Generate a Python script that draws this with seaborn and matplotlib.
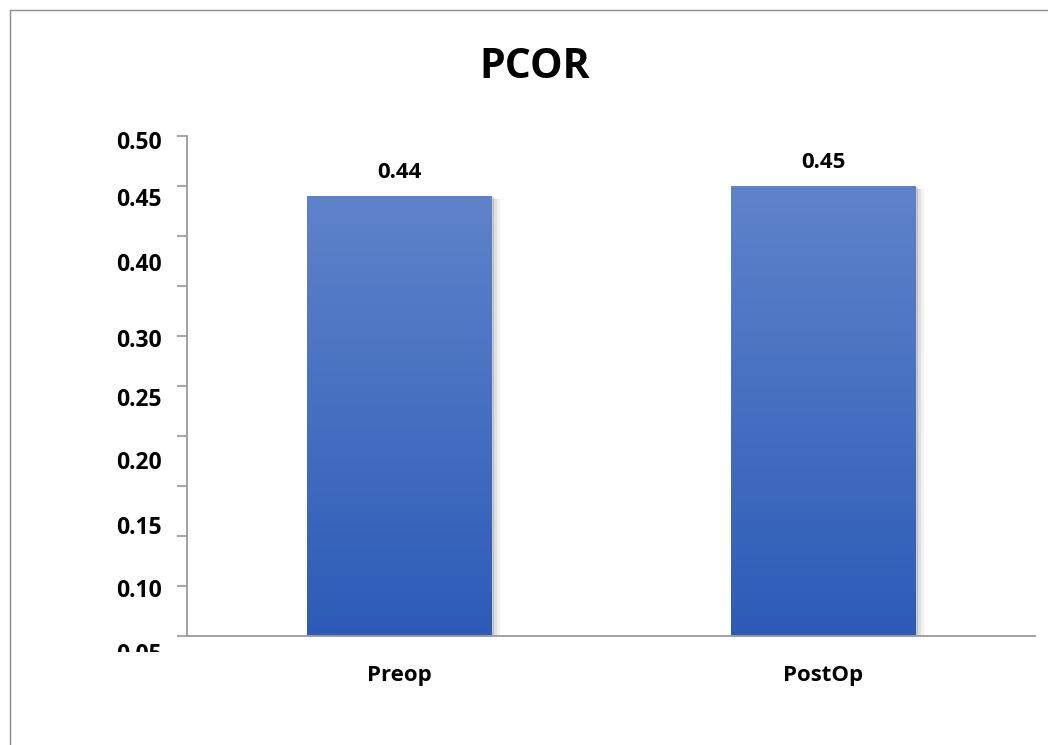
import numpy as np
import pandas as pd
import matplotlib
matplotlib.use("Agg")
import matplotlib.pyplot as plt
import matplotlib.patheffects as pe
from matplotlib.patches import Rectangle
import seaborn as sns

# Chart data
categories = ["Preop", "PostOp"]
values = [0.44, 0.45]
value_labels = ["0.44", "0.45"]
y_tick_labels = ["0.50", "0.45", "0.40", "0.30", "0.25", "0.20", "0.15", "0.10", "0.05"]
title = "PCOR"

# Layout: where each y label sits (data units) and the axis grid step
label_y = [0.493, 0.436, 0.371, 0.295, 0.236, 0.173, 0.108, 0.045, -0.019]
tick_step = 0.05
y_max = 0.5

sns.set_style("white")
plt.rcParams["font.family"] = ["Open Sans", "DejaVu Sans"]
plt.rcParams["font.weight"] = "bold"

W, H = 1048, 745
fig = plt.figure(figsize=(W / 100, H / 100), dpi=100)
ax = fig.add_axes([187 / W, 1 - 636 / H, (1035 - 187) / W, (636 - 136) / H])

df = pd.DataFrame({"group": categories, "value": values})
sns.barplot(data=df, x="group", y="value", ax=ax, color="#2d5db8",
            width=0.436, saturation=1, errorbar=None)

# Vertical blue gradient on each bar, with a soft drop shadow
grad = np.linspace(0, 1, 256).reshape(-1, 1)
cmap = matplotlib.colors.LinearSegmentedColormap.from_list(
    "barblue", ["#2c5bb7", "#5f83cb"])
for bar in ax.patches:
    bar.set_path_effects([
        pe.SimplePatchShadow(offset=(6, -2), shadow_rgbFace="#999999", alpha=0.12),
        pe.SimplePatchShadow(offset=(4, -2), shadow_rgbFace="#888888", alpha=0.18),
        pe.SimplePatchShadow(offset=(2, -1), shadow_rgbFace="#666666", alpha=0.25),
        pe.Normal()])
    x0, w, h = bar.get_x(), bar.get_width(), bar.get_height()
    img = ax.imshow(grad, extent=[x0, x0 + w, 0, h], origin="lower",
                    cmap=cmap, aspect="auto", zorder=bar.get_zorder() + 0.1)
    img.set_clip_path(bar)
ax.set_ylim(0, y_max)
ax.set_xlim(-0.5, len(categories) - 0.5)

# Value labels above bars
ax.bar_label(ax.containers[0], labels=value_labels, padding=9,
             fontsize=16, fontweight="bold", color="black")

# Axis styling
for side in ["top", "right"]:
    ax.spines[side].set_visible(False)
for side in ["left", "bottom"]:
    ax.spines[side].set_color("#9a9a9a")
    ax.spines[side].set_linewidth(1.3)

ax.set_yticks(np.arange(0, y_max + tick_step / 2, tick_step))
ax.set_yticklabels([])
ax.tick_params(axis="y", length=7, width=1.2, color="#9a9a9a", left=True)
ax.tick_params(axis="x", length=0, pad=21, labelsize=16, labelcolor="black")
for lbl in ax.get_xticklabels():
    lbl.set_fontweight("bold")
ax.set_xlabel("")
ax.set_ylabel("")

# Y labels drawn as text
for txt, yv in zip(y_tick_labels, label_y):
    ax.text(-0.0295, yv, txt, transform=ax.get_yaxis_transform(),
            ha="right", va="center", fontsize=16.5, fontweight="bold",
            color="black", clip_on=False)

# The plot area ends just below the axis, cutting the lowest label
fig.patches.append(Rectangle((95 / W, 1 - 700 / H), 85 / W, 48 / H,
                             transform=fig.transFigure, facecolor="white",
                             edgecolor="none", zorder=5))

fig.text(535 / W, 1 - 68 / H, title, ha="center", va="center",
         fontsize=29.5, fontweight="bold", color="black")

# Chart area border
fig.patches.append(Rectangle((10 / W, -0.1), 1.2, (1 - 10 / H) + 0.1,
                             transform=fig.transFigure, fill=False,
                             edgecolor="#8c8c8c", linewidth=1.0))

fig.savefig("out.png", dpi=100, facecolor="white")
